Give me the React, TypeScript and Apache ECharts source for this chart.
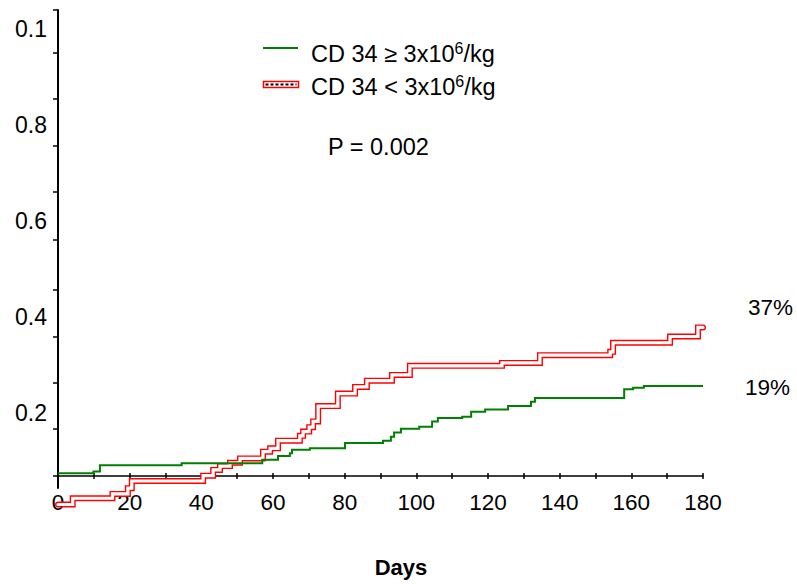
import React, { useEffect, useRef } from "react";
import * as echarts from "echarts";

// Days at which each step begins, and the cumulative incidence from that day on
const greenDays = [0, 9.9, 11.7, 34.5, 57, 61.4, 64.7, 65.3, 70.3, 80.1, 90.7, 92.9, 93.8, 95.7, 100.8, 104.4, 106, 112.8, 115.3, 119.2, 125.6, 132, 133.1, 158, 160.5, 163.5, 180];
const greenValues = [0.075, 0.079, 0.092, 0.096, 0.103, 0.111, 0.117, 0.124, 0.127, 0.138, 0.143, 0.151, 0.16, 0.168, 0.172, 0.183, 0.19, 0.193, 0.203, 0.208, 0.215, 0.224, 0.232, 0.25, 0.253, 0.257, 0.257];

const redDays = [0, 4.1, 15.2, 19.5, 20.6, 40.5, 43.3, 45.2, 48, 50.8, 57.2, 59.2, 61.4, 67.5, 68.4, 70.1, 71.2, 72.6, 78.1, 82.9, 86.2, 93.2, 98.2, 123.9, 134.5, 154.1, 154.9, 170.8, 178.6, 180];
const redValues = [0.01, 0.023, 0.032, 0.044, 0.059, 0.07, 0.082, 0.09, 0.097, 0.106, 0.12, 0.127, 0.143, 0.153, 0.162, 0.171, 0.183, 0.215, 0.241, 0.255, 0.268, 0.28, 0.299, 0.305, 0.321, 0.328, 0.347, 0.36, 0.379, 0.379];

const xLabelValues = [0, 20, 40, 60, 80, 100, 120, 140, 160, 180];
const xTickValues = [0, 10, 20, 30, 40, 50, 60, 70, 80, 90, 100, 110, 120, 130, 140, 150, 160, 170, 180];

const yLabelValues = [0.2, 0.4, 0.6, 0.8, 1.0];
const yLabelTexts = ["0.2", "0.4", "0.6", "0.8", "0.1"];
const yTickValues = [0.069, 0.167, 0.263, 0.36, 0.458, 0.562, 0.661, 0.757, 0.855, 0.951, 1.04];

const legendTexts = ["CD 34 ≥ 3x10", "CD 34 < 3x10"];
const endLabels = ["37%", "19%"];
const pText = "P = 0.002";
const xTitle = "Days";

const FONT = "'Liberation Sans', Arial, sans-serif";

export default function App() {
  const ref = useRef<HTMLDivElement>(null);
  useEffect(() => {
    if (!ref.current) return;
    const chart = echarts.init(ref.current, null, { renderer: "svg" });
    const redData = redDays.map((d, i) => [d, redValues[i]]);
    const greenData = greenDays.map((d, i) => [d, greenValues[i]]);
    const rich = {
      a: { fontSize: 23.5, fontFamily: FONT, color: "#000", lineHeight: 28 },
      s: { fontSize: 16, fontFamily: FONT, color: "#000", lineHeight: 16, verticalAlign: "top" },
    };
    const option = {
      animation: false,
      textStyle: { fontFamily: FONT },
      grid: { left: 58, right: 94, top: 10, bottom: 96 },
      xAxis: [
        {
          type: "value",
          min: 0,
          max: 180,
          position: "bottom",
          offset: -12,
          axisLine: { lineStyle: { color: "#000", width: 1.5 } },
          axisTick: { customValues: xTickValues, length: 3, lineStyle: { color: "#000", width: 1.5 } },
          axisLabel: { customValues: xLabelValues, margin: 15, color: "#000", fontSize: 22.5, fontFamily: FONT },
          splitLine: { show: false },
        },
        {
          type: "value",
          min: 0,
          max: 180,
          position: "bottom",
          offset: -12,
          axisLine: { show: false },
          axisTick: { inside: true, customValues: xTickValues, length: 3, lineStyle: { color: "#000", width: 1.5 } },
          axisLabel: { show: false },
          splitLine: { show: false },
        },
      ],
      yAxis: {
        type: "value",
        min: 0.044375,
        max: 1.040208,
        axisLine: { lineStyle: { color: "#000", width: 2 } },
        axisTick: { customValues: yTickValues, length: 5, lineStyle: { color: "#000", width: 1.5 } },
        axisLabel: {
          customValues: yLabelValues,
          margin: 11,
          color: "#000",
          fontSize: 23,
          fontFamily: FONT,
          formatter: (v: number) => {
            const i = yLabelValues.findIndex((x) => Math.abs(x - v) < 1e-6);
            return i >= 0 ? yLabelTexts[i] : "";
          },
        },
        splitLine: { show: false },
      },
      series: [
        {
          type: "line",
          step: "end",
          data: redData,
          symbol: "none",
          clip: false,
          z: 2,
          lineStyle: { color: "#ff0000", width: 6, join: "miter", cap: "round" },
        },
        {
          type: "line",
          step: "end",
          data: redData,
          symbol: "none",
          clip: false,
          z: 3,
          lineStyle: { color: "#ffffff", width: 3.2, join: "miter", cap: "round" },
        },
        {
          type: "line",
          step: "end",
          data: greenData,
          symbol: "none",
          clip: false,
          z: 4,
          lineStyle: { color: "#008000", width: 2, join: "miter" },
        },
      ],
      graphic: [
        { type: "line", shape: { x1: 263, y1: 48, x2: 298, y2: 48 }, style: { stroke: "#008000", lineWidth: 2 } },
        { type: "rect", shape: { x: 263.5, y: 81.5, width: 35, height: 6 }, style: { fill: "#fff", stroke: "#ff0000", lineWidth: 1.5 } },
        { type: "line", shape: { x1: 265.5, y1: 84.5, x2: 296.5, y2: 84.5 }, style: { stroke: "#000", lineWidth: 2, lineDash: [3, 2] } },
        {
          type: "text",
          x: 311,
          y: 54,
          style: { text: `{a|${legendTexts[0]}}{s|6}{a|/kg}`, rich, verticalAlign: "middle" },
        },
        {
          type: "text",
          x: 311,
          y: 87,
          style: { text: `{a|${legendTexts[1]}}{s|6}{a|/kg}`, rich, verticalAlign: "middle" },
        },
        { type: "text", x: 328, y: 147, style: { text: pText, fontSize: 23.5, fontFamily: FONT, fill: "#000", verticalAlign: "middle" } },
        { type: "text", x: 748, y: 307, style: { text: endLabels[0], fontSize: 22.5, fontFamily: FONT, fill: "#000", verticalAlign: "middle" } },
        { type: "text", x: 745, y: 387, style: { text: endLabels[1], fontSize: 22.5, fontFamily: FONT, fill: "#000", verticalAlign: "middle" } },
        { type: "text", x: 401, y: 567, style: { text: xTitle, fontSize: 22, fontWeight: "bold", fontFamily: FONT, fill: "#000", align: "center", verticalAlign: "middle" } },
      ],
    };
    chart.setOption(option as any);
    return () => chart.dispose();
  }, []);
  return <div ref={ref} style={{ position: "absolute", left: 0, top: 0, width: 797, height: 584 }} />;
}
